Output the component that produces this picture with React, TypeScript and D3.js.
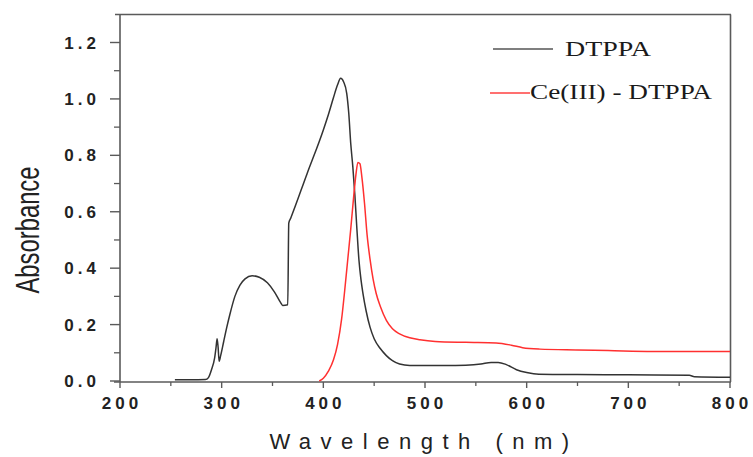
import React from "react";
import * as d3 from "d3";

const xTicks = [200, 300, 400, 500, 600, 700, 800];
const yTicks = [0.0, 0.2, 0.4, 0.6, 0.8, 1.0, 1.2];

const dtppaWl = [254, 270, 284, 287, 290, 293, 294.5, 295.5, 296.5, 297.5, 299, 302, 305, 308, 313, 318, 323, 330, 337, 345, 352, 358, 360, 365, 366, 368, 384, 400, 405, 410, 414, 417, 420, 423, 425, 427, 429, 431, 433, 435, 437, 439, 442, 446, 450, 456, 462, 468, 475, 485, 500, 520, 540, 555, 565, 572, 580, 590, 600, 612, 650, 700, 760, 765, 800];
const dtppaAbs = [0.004, 0.004, 0.005, 0.012, 0.04, 0.08, 0.12, 0.15, 0.12, 0.07, 0.09, 0.14, 0.19, 0.235, 0.3, 0.34, 0.362, 0.373, 0.368, 0.348, 0.315, 0.278, 0.268, 0.27, 0.56, 0.578, 0.735, 0.89, 0.945, 1.005, 1.05, 1.073, 1.06, 1.02, 0.95, 0.84, 0.76, 0.66, 0.54, 0.43, 0.36, 0.31, 0.25, 0.19, 0.15, 0.115, 0.09, 0.072, 0.06, 0.055, 0.055, 0.055, 0.056, 0.06, 0.066, 0.066, 0.058, 0.04, 0.03, 0.024, 0.023, 0.022, 0.02, 0.015, 0.013];

const ceWl = [396, 400, 405, 410, 414, 418, 421, 424, 427, 430, 432, 434, 436, 438, 440.5, 443, 446, 449, 452, 456, 462, 468, 475, 485, 495, 510, 540, 570, 585, 596, 613, 650, 680, 724, 800];
const ceAbs = [0.0, 0.01, 0.035, 0.075, 0.13, 0.22, 0.32, 0.43, 0.54, 0.66, 0.73, 0.775, 0.77, 0.72, 0.63, 0.52, 0.43, 0.36, 0.31, 0.265, 0.215, 0.185, 0.167, 0.153, 0.146, 0.14, 0.137, 0.135, 0.127, 0.118, 0.113, 0.11, 0.108, 0.105, 0.105];

const legendLabels = ["DTPPA", "Ce(III) - DTPPA"];

export default function App() {
  const x = d3.scaleLinear().domain([200, 800]).range([120, 730]);
  const y = d3.scaleLinear().domain([0, 1.2]).range([381, 42.5]);
  const yTop = 14.5;
  const yBot = 382;

  const line = d3
    .line<[number, number]>()
    .x((d) => x(d[0]))
    .y((d) => y(d[1]))
    .curve(d3.curveMonotoneX);

  const black = dtppaWl.map((w, i) => [w, dtppaAbs[i]] as [number, number]);
  const red = ceWl.map((w, i) => [w, ceAbs[i]] as [number, number]);

  const xMinor = d3.range(250, 800, 100);
  const yMinor = d3.range(0.1, 1.3, 0.2);
  const axisColor = "#5a5a5a";
  const tickFont = "Arial, 'Liberation Sans', sans-serif";
  const serif = "'Liberation Serif', 'Times New Roman', serif";

  return (
    <svg width={753} height={457} style={{ position: "absolute", left: 0, top: 0, background: "#fff" }}>
      {/* frame */}
      <line x1={115} x2={731} y1={yTop} y2={yTop} stroke={axisColor} strokeWidth={1.6} />
      <line x1={730.5} x2={730.5} y1={yTop} y2={yBot} stroke={axisColor} strokeWidth={1.6} />
      <line x1={120} x2={120} y1={yTop} y2={yBot} stroke={axisColor} strokeWidth={1.6} />
      <line x1={114} x2={731} y1={yBot} y2={yBot} stroke={axisColor} strokeWidth={1.6} />

      {/* x ticks */}
      {xTicks.map((t) => (
        <g key={"xt" + t}>
          <line x1={x(t)} x2={x(t)} y1={yBot} y2={yBot + 6} stroke={axisColor} strokeWidth={1.4} />
          <text
            x={x(t) + 2}
            y={409}
            textAnchor="middle"
            fontFamily={tickFont}
            fontWeight="bold"
            fontSize={17}
            letterSpacing={4}
            fill="#222"
          >
            {t}
          </text>
        </g>
      ))}
      {xMinor.map((t) => (
        <line key={"xm" + t} x1={x(t)} x2={x(t)} y1={yBot} y2={yBot + 4} stroke={axisColor} strokeWidth={1.3} />
      ))}

      {/* y ticks */}
      {yTicks.map((t) => (
        <g key={"yt" + t}>
          <line x1={110} x2={120} y1={y(t)} y2={y(t)} stroke={axisColor} strokeWidth={1.4} />
          <text
            x={100}
            y={y(t) + 6}
            textAnchor="end"
            fontFamily={tickFont}
            fontWeight="bold"
            fontSize={17}
            letterSpacing={4}
            fill="#222"
          >
            {t.toFixed(1)}
          </text>
        </g>
      ))}
      {yMinor.map((t) => (
        <line key={"ym" + t} x1={114} x2={120} y1={y(t)} y2={y(t)} stroke={axisColor} strokeWidth={1.3} />
      ))}

      {/* axis titles */}
      <text
        x={424}
        y={449}
        textAnchor="middle"
        fontFamily={tickFont}
        fontSize={22}
        letterSpacing={9.5}
        fill="#222"
      >
        Wavelength  (nm)
      </text>
      <text
        transform="translate(39,230) rotate(-90)"
        textAnchor="middle"
        fontFamily={tickFont}
        fontSize={34}
        textLength={127}
        lengthAdjust="spacingAndGlyphs"
        fill="#222"
      >
        Absorbance
      </text>

      {/* curves */}
      <path d={line(black) || ""} fill="none" stroke="#333" strokeWidth={1.5} />
      <path d={line(red) || ""} fill="none" stroke="#ff3030" strokeWidth={1.5} />

      {/* legend */}
      <line x1={493} x2={553} y1={49} y2={49} stroke="#555" strokeWidth={1.6} />
      <text x={565} y={56} fontFamily={serif} fontSize={22} textLength={86} lengthAdjust="spacingAndGlyphs" fill="#1a1a1a">
        {legendLabels[0]}
      </text>
      <line x1={490} x2={530} y1={93} y2={93} stroke="#ff4040" strokeWidth={1.6} />
      <text x={530} y={99} fontFamily={serif} fontSize={22} textLength={182} lengthAdjust="spacingAndGlyphs" fill="#1a1a1a">
        {legendLabels[1]}
      </text>
    </svg>
  );
}
